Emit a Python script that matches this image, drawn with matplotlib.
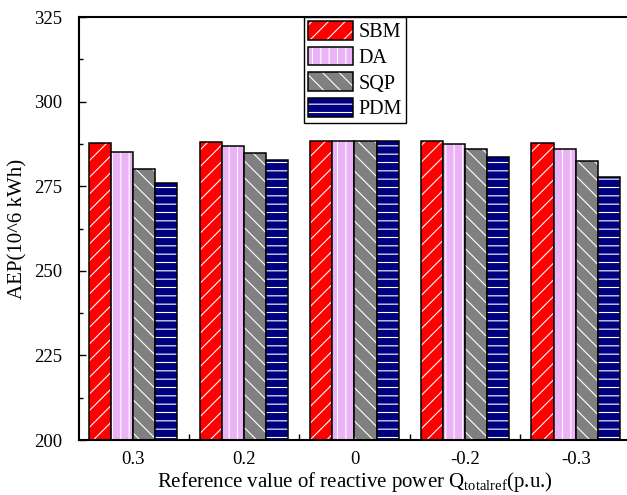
import matplotlib
matplotlib.use("Agg")
import matplotlib.pyplot as plt
import numpy as np
from matplotlib.patches import Patch
from matplotlib.legend_handler import HandlerTuple

plt.rcParams['font.family'] = 'Liberation Serif'
plt.rcParams['mathtext.fontset'] = 'custom'
plt.rcParams['mathtext.rm'] = 'Liberation Serif'
plt.rcParams['hatch.linewidth'] = 0.8

groups = ['0.3', '0.2', '0', '-0.2', '-0.3']
methods = ['SBM', 'DA', 'SQP', 'PDM']
sbm = [287.7, 288.1, 288.5, 288.3, 287.7]
da = [285.0, 286.8, 288.5, 287.5, 285.9]
sqp = [280.0, 284.7, 288.5, 286.1, 282.4]
pdm = [275.9, 282.6, 288.3, 283.6, 277.6]
series = [sbm, da, sqp, pdm]

colors = ['#ff0000', '#ebb2f5', '#808080', '#000080']
hatches = ['//', '||', '\\\\', '--']

fig = plt.figure(figsize=(6.27, 4.95), dpi=100)
ax = fig.add_axes([79/627, 55/495, 552/627, 423/495])

x = np.arange(len(groups))
w = 0.2
handles = []
for i, vals in enumerate(series):
    pos = x - 0.3 + i * w
    # hatch layer (white lines) then black outline on top
    ax.bar(pos, vals, w, color=colors[i], edgecolor='white', hatch=hatches[i], linewidth=0)
    ax.bar(pos, vals, w, fill=False, edgecolor='black', linewidth=1.1)
    h1 = Patch(facecolor=colors[i], edgecolor='white', hatch=hatches[i], linewidth=0)
    h2 = Patch(fill=False, edgecolor='black', linewidth=1.1)
    handles.append((h1, h2))

ax.set_ylim(200, 325)
ax.set_xlim(-0.49, 4.5)
ax.set_yticks(np.arange(200, 326, 25))
ax.set_yticks(np.arange(200, 326, 12.5), minor=True)
ax.set_xticks(x)
ax.set_xticklabels(groups)
ax.set_xticks(np.arange(0.5, 4, 1), minor=True)
ax.tick_params(axis='x', which='major', length=0, labelsize=13.5, pad=8)
ax.tick_params(axis='x', which='minor', direction='in', length=4, width=1)
ax.tick_params(axis='y', which='major', direction='in', length=5, width=1, labelsize=13.5, pad=12)
ax.tick_params(axis='y', which='minor', direction='in', length=3, width=1)
for s in ax.spines.values():
    s.set_linewidth(1.5)

ax.set_ylabel('AEP(10^6 kWh)', fontsize=15, labelpad=5)
ax.set_xlabel(r'Reference value of reactive power Q$_{\rm totalref}$(p.u.)', fontsize=15, labelpad=1)

leg = ax.legend(handles, methods, loc='upper center', borderaxespad=0, fontsize=14.5,
                handler_map={tuple: HandlerTuple(ndivide=1, pad=0)},
                handlelength=2.25, handleheight=1.05, labelspacing=0.22,
                handletextpad=0.25, borderpad=0.2, fancybox=False, framealpha=1)
leg.get_frame().set_edgecolor('black')
leg.get_frame().set_linewidth(1.0)

fig.savefig('out.png', dpi=100)
